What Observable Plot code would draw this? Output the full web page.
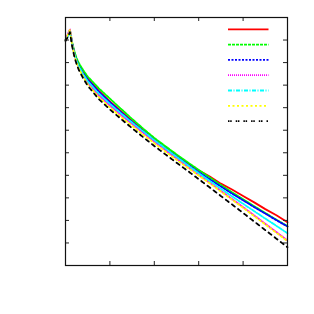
<!DOCTYPE html>
<html>
<head>
<meta charset="utf-8">
<script src="https://cdn.jsdelivr.net/npm/d3@7"></script>
<script src="https://cdn.jsdelivr.net/npm/@observablehq/plot@0.6"></script>
<style>
  html, body { margin: 0; padding: 0; background: #fff; }
  #wrap { position: relative; width: 314px; height: 314px; }
  #wrap svg { position: absolute; left: 0; top: 0; }
</style>
</head>
<body>
<div id="wrap"></div>
<script>
const xs = [0, 0.05, 0.1, 0.15, 0.2, 0.25, 0.3, 0.4, 0.5, 0.75, 1, 1.25, 1.5, 1.75, 2, 2.25, 2.5, 2.75, 3, 3.25, 3.5, 3.75, 4, 4.25, 4.5, 4.75, 5];

const redY     = [10.0, 10.2, 10.42, 9.85, 9.42, 9.1, 8.87, 8.56, 8.3, 7.76, 7.28, 6.84, 6.41, 6.0, 5.6, 5.23, 4.87, 4.54, 4.22, 3.95, 3.63, 3.37, 3.08, 2.8, 2.5, 2.23, 1.92];
const greenY   = [10.0, 10.22, 10.45, 9.9, 9.5, 9.2, 8.98, 8.66, 8.38, 7.86, 7.4, 6.95, 6.5, 6.07, 5.66, 5.29, 4.93, 4.58, 4.24, 3.9, 3.57, 3.25, 2.94, 2.63, 2.33, 2.03, 1.74];
const blueY    = [10.0, 10.2, 10.42, 9.84, 9.4, 9.08, 8.85, 8.52, 8.25, 7.71, 7.24, 6.8, 6.37, 5.95, 5.55, 5.18, 4.83, 4.48, 4.14, 3.82, 3.5, 3.19, 2.89, 2.59, 2.3, 2.01, 1.73];
const magentaY = [10.0, 10.25, 10.48, 9.82, 9.36, 9.04, 8.8, 8.43, 8.1, 7.55, 7.1, 6.68, 6.28, 5.89, 5.5, 5.12, 4.74, 4.38, 4.02, 3.67, 3.31, 2.95, 2.59, 2.22, 1.85, 1.48, 1.11];
const cyanY    = [10.0, 10.15, 10.38, 9.8, 9.38, 9.06, 8.83, 8.48, 8.18, 7.63, 7.17, 6.75, 6.34, 5.95, 5.56, 5.19, 4.82, 4.46, 4.1, 3.75, 3.41, 3.07, 2.74, 2.41, 2.08, 1.76, 1.43];
const yellowY  = [10.0, 10.22, 10.45, 9.78, 9.32, 8.99, 8.74, 8.37, 8.03, 7.47, 7.01, 6.59, 6.19, 5.8, 5.42, 5.05, 4.69, 4.34, 3.99, 3.64, 3.28, 2.92, 2.56, 2.19, 1.82, 1.45, 1.08];
const blackY   = [9.96, 10.12, 10.35, 9.72, 9.26, 8.93, 8.67, 8.3, 7.97, 7.38, 6.92, 6.5, 6.09, 5.69, 5.3, 4.93, 4.56, 4.2, 3.83, 3.46, 3.08, 2.71, 2.33, 1.95, 1.57, 1.19, 0.81];

const seriesNames  = ["red", "green", "blue", "magenta", "cyan", "yellow", "black"];
const seriesColors = ["#ff0000", "#00ff00", "#0000ff", "#ff00ff", "#00ffff", "#ffff00", "#000000"];
const seriesDash   = [null, "3,1", "2,1.5", "1,1", "4,1.5,1,1.5", "2,2.5", "1.5,0.7,1.5,4"];
const seriesValues = [redY, greenY, blueY, magentaY, cyanY, yellowY, blackY];

const xTicks = [0, 1, 2, 3, 4, 5];
const yTicks = [0, 1, 2, 3, 4, 5, 6, 7, 8, 9, 10, 11];

const W = 314, H = 314;
const mL = 65, mR = 27, mT = 17, mB = 49;
const innerW = W - mL - mR, innerH = H - mT - mB;
const tickLen = 4;

const lineMarks = seriesValues.map((vals, i) =>
  Plot.line(xs.map((x, j) => ({x, y: vals[j]})), {
    x: "x", y: "y",
    stroke: seriesColors[i],
    strokeWidth: 1.8,
    strokeDasharray: seriesDash[i] ?? undefined
  })
);

const chart = Plot.plot({
  width: W, height: H,
  marginLeft: mL, marginRight: mR, marginTop: mT, marginBottom: mB,
  style: {background: "#fff"},
  x: {domain: [0, 5], axis: null},
  y: {domain: [0, 11], axis: null},
  marks: [
    ...lineMarks,
    Plot.tickX(xTicks, {x: d => d, insetTop: innerH - tickLen, stroke: "#222"}),
    Plot.tickX(xTicks, {x: d => d, insetBottom: innerH - tickLen, stroke: "#222"}),
    Plot.tickY(yTicks, {y: d => d, insetRight: innerW - tickLen, stroke: "#222"}),
    Plot.tickY(yTicks, {y: d => d, insetLeft: innerW - tickLen, stroke: "#222"}),
    Plot.frame({stroke: "#111", strokeWidth: 1.2})
  ]
});

const wrap = document.getElementById("wrap");
wrap.appendChild(chart);

// key (line samples only, no labels in the reference)
const key = d3.select(wrap).append("svg")
  .attr("width", W).attr("height", H)
  .style("pointer-events", "none");
key.selectAll("line").data(seriesNames).join("line")
  .attr("x1", 228).attr("x2", 268.5)
  .attr("y1", (d, i) => 29.3 + i * 15.3)
  .attr("y2", (d, i) => 29.3 + i * 15.3)
  .attr("stroke", (d, i) => seriesColors[i])
  .attr("stroke-width", 1.8)
  .attr("stroke-dasharray", (d, i) => seriesDash[i]);
</script>
</body>
</html>
